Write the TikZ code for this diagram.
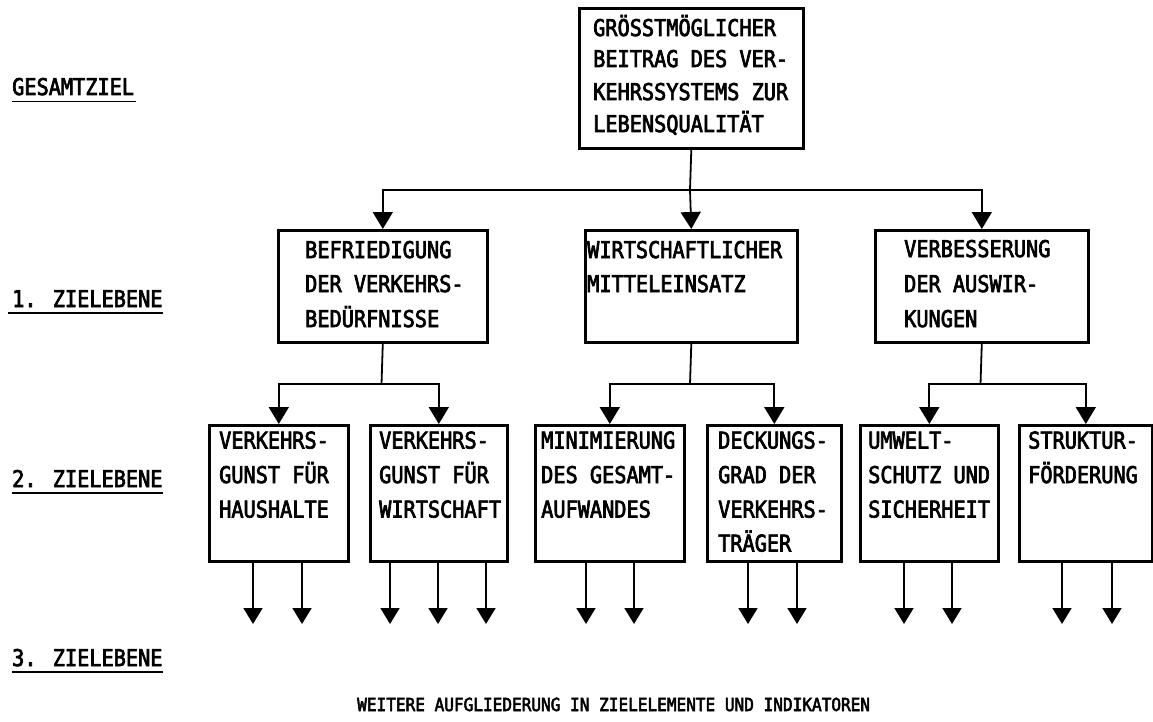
\documentclass[tikz,border=0pt]{standalone}
\usepackage{fontspec}
\newfontfamily\plotfont[FakeStretch=0.88,FakeBold=3]{DejaVu Sans Mono}
\newfontfamily\capfont[FakeStretch=0.893,FakeBold=3]{DejaVu Sans Mono}
\usetikzlibrary{arrows.meta}
\begin{document}
\begin{tikzpicture}[x=1pt,y=-1pt,
  box/.style={draw, line width=2.6pt, inner sep=0pt, anchor=north west},
  txt/.style={inner sep=0pt, anchor=base west, font=\plotfont\fontsize{23pt}{27pt}\selectfont},
  lbl/.style={inner sep=0pt, anchor=base west, font=\plotfont\fontsize{23pt}{27pt}\selectfont},
  captxt/.style={inner sep=0pt, anchor=base west, font=\capfont\fontsize{18pt}{22pt}\selectfont},
  conn/.style={line width=1.8pt},
  arr/.style={conn, -{Triangle[width=20pt,length=17pt]}},
  sarr/.style={conn, -{Triangle[width=19pt,length=16pt]}},
  uline/.style={line width=1.6pt}
]
\useasboundingbox (0,0) rectangle (1153,722);

% level labels
\node[lbl] (l0) at (12,95) {GESAMTZIEL};
\node[lbl] (l1) at (12,307) {1. ZIELEBENE};
\node[lbl] (l2) at (12,487) {2. ZIELEBENE};
\node[lbl] (l3) at (12,666) {3. ZIELEBENE};
\draw[uline] ([yshift=-6.5pt]l0.base west) -- ([yshift=-6.5pt,xshift=2pt]l0.base east);
\draw[uline] ([yshift=-6pt,xshift=-4pt]l1.base west) -- ([yshift=-6pt]l1.base east);
\draw[uline] ([yshift=-6pt]l2.base west) -- ([yshift=-6pt]l2.base east);
\draw[uline] ([yshift=-6pt]l3.base west) -- ([yshift=-6pt]l3.base east);

% top box
\node[box, minimum width=224pt, minimum height=140pt] (top) at (578,7) {};
\node[txt] (tt1) at (593,36) {GRÖSSTMÖGLICHER};
\node[txt] (tt2) at (593,67) {BEITRAG DES VER-};
\node[txt] (tt3) at (593,100) {KEHRSSYSTEMS ZUR};
\node[txt] (tt4) at (593,132) {LEBENSQUALITÄT};

% level 1 boxes
\node[box, minimum width=209pt, minimum height=112pt] (b1a) at (277,229) {};
\node[box, minimum width=212pt, minimum height=112pt] (b1b) at (584,229) {};
\node[box, minimum width=213pt, minimum height=112pt] (b1c) at (874,229) {};

\node[txt] (t1a1) at (305,258) {BEFRIEDIGUNG};
\node[txt] (t1a2) at (305,292) {DER VERKEHRS-};
\node[txt] (t1a3) at (305,327) {BEDÜRFNISSE};

\node[txt] (t1b1) at (587,258) {WIRTSCHAFTLICHER};
\node[txt] (t1b2) at (587,292) {MITTELEINSATZ};

\node[txt] (t1c1) at (904,257) {VERBESSERUNG};
\node[txt] (t1c2) at (904,292) {DER AUSWIR-};
\node[txt] (t1c3) at (904,327) {KUNGEN};

% level 2 boxes
\node[box, minimum width=139pt, minimum height=136pt] (b2a) at (208,424) {};
\node[box, minimum width=137pt, minimum height=136pt] (b2b) at (369,424) {};
\node[box, minimum width=149pt, minimum height=136pt] (b2c) at (534,424) {};
\node[box, minimum width=134pt, minimum height=136pt] (b2d) at (706,424) {};
\node[box, minimum width=138pt, minimum height=136pt] (b2e) at (859,424) {};
\node[box, minimum width=133pt, minimum height=136pt] (b2f) at (1018,424) {};

\node[txt] (t2a1) at (219,448.5) {VERKEHRS-};
\node[txt] (t2a2) at (219,483) {GUNST FÜR};
\node[txt] (t2a3) at (219,517.5) {HAUSHALTE};

\node[txt] (t2b1) at (379,448.5) {VERKEHRS-};
\node[txt] (t2b2) at (379,483) {GUNST FÜR};
\node[txt] (t2b3) at (379,517.5) {WIRTSCHAFT};

\node[txt] (t2c1) at (541,448.5) {MINIMIERUNG};
\node[txt] (t2c2) at (541,483) {DES GESAMT-};
\node[txt] (t2c3) at (541,517.5) {AUFWANDES};

\node[txt] (t2d1) at (718,448.5) {DECKUNGS-};
\node[txt] (t2d2) at (718,483) {GRAD DER};
\node[txt] (t2d3) at (718,517.5) {VERKEHRS-};
\node[txt] (t2d4) at (718,551.5) {TRÄGER};

\node[txt] (t2e1) at (868,448.5) {UMWELT-};
\node[txt] (t2e2) at (868,483) {SCHUTZ UND};
\node[txt] (t2e3) at (868,517.5) {SICHERHEIT};

\node[txt] (t2f1) at (1028,448.5) {STRUKTUR-};
\node[txt] (t2f2) at (1028,483) {FÖRDERUNG};

% connectors level 0 -> 1
\coordinate (j0) at (690,190);
\draw[conn] (top.south) -- (j0);
\draw[arr] (j0) -| (b1a.north);
\draw[arr] (j0) -- (b1b.north);
\draw[arr] (j0) -| (b1c.north);

% connectors level 1 -> 2
\coordinate (ja) at (381.5,384);
\coordinate (jb) at (690,384);
\coordinate (jc) at (980.5,384);
\draw[conn] (b1a.south) -- (ja);
\draw[conn] (b1b.south) -- (jb);
\draw[conn] (b1c.south) -- (jc);
\draw[arr] (ja) -| (b2a.north);
\draw[arr] (ja) -| (b2b.north);
\draw[arr] (jb) -| (b2c.north);
\draw[arr] (jb) -| (b2d.north);
\draw[arr] (jc) -| (b2e.north);
\draw[arr] (jc) -| (b2f.north);

% level 2 -> 3 arrows
\coordinate (e1) at (253,624);
\coordinate (e2) at (302,624);
\coordinate (e3) at (390,624);
\coordinate (e4) at (438,624);
\coordinate (e5) at (486,624);
\coordinate (e6) at (586,624);
\coordinate (e7) at (634,624);
\coordinate (e8) at (748,624);
\coordinate (e9) at (797,624);
\coordinate (e10) at (904,624);
\coordinate (e11) at (952,624);
\coordinate (e12) at (1062,624);
\coordinate (e13) at (1112,624);
\draw[sarr] (b2a.south -| e1) -- (e1);
\draw[sarr] (b2a.south -| e2) -- (e2);
\draw[sarr] (b2b.south -| e3) -- (e3);
\draw[sarr] (b2b.south -| e4) -- (e4);
\draw[sarr] (b2b.south -| e5) -- (e5);
\draw[sarr] (b2c.south -| e6) -- (e6);
\draw[sarr] (b2c.south -| e7) -- (e7);
\draw[sarr] (b2d.south -| e8) -- (e8);
\draw[sarr] (b2d.south -| e9) -- (e9);
\draw[sarr] (b2e.south -| e10) -- (e10);
\draw[sarr] (b2e.south -| e11) -- (e11);
\draw[sarr] (b2f.south -| e12) -- (e12);
\draw[sarr] (b2f.south -| e13) -- (e13);

% caption
\node[captxt] (cap) at (357,711) {WEITERE AUFGLIEDERUNG IN ZIELELEMENTE UND INDIKATOREN};
\end{tikzpicture}
\end{document}
